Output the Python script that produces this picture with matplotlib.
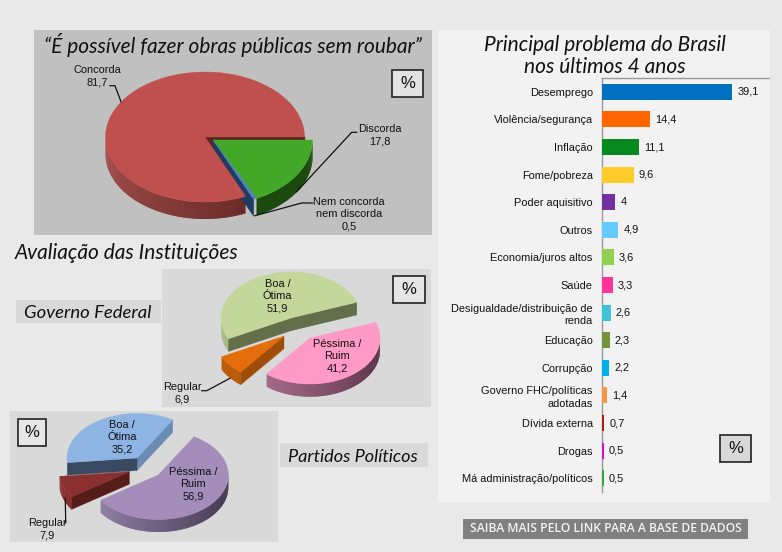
import numpy as np
import matplotlib
matplotlib.use("Agg")
import matplotlib.pyplot as plt
from matplotlib.collections import PolyCollection
from matplotlib.colors import to_rgb
from matplotlib.patches import Rectangle

W, H = 782, 552
BG = "#e9e9e9"

# ---- data ----
pie1_labels = ["Discorda", "Nem concorda\nnem discorda", "Concorda"]
pie1_values = [17.8, 0.5, 81.7]
gov_labels = ["Péssima /\nRuim", "Regular", "Boa /\nÓtima"]
gov_values = [41.2, 6.9, 51.9]
part_labels = ["Péssima /\nRuim", "Regular", "Boa /\nÓtima"]
part_values = [56.9, 7.9, 35.2]
bar_labels = ["Desemprego", "Violência/segurança", "Inflação", "Fome/pobreza",
              "Poder aquisitivo", "Outros", "Economia/juros altos", "Saúde",
              "Desigualdade/distribuição de\nrenda", "Educação", "Corrupção",
              "Governo FHC/políticas\nadotadas", "Dívida externa", "Drogas",
              "Má administração/políticos"]
bar_values = [39.1, 14.4, 11.1, 9.6, 4, 4.9, 3.6, 3.3, 2.6, 2.3, 2.2, 1.4, 0.7, 0.5, 0.5]
bar_colors = ["#0070c0", "#ff6600", "#068a1e", "#ffcc29", "#7030a0", "#66ccff", "#92d050",
              "#ff3399", "#3fc3d8", "#76923c", "#00b0f0", "#f79646", "#b01818", "#cc11cc", "#33aa44"]


def fmt(v):
    return f"{v:g}".replace(".", ",")


fig = plt.figure(figsize=(W / 100, H / 100), dpi=100, facecolor=BG)
ax = fig.add_axes([0, 0, 1, 1])
ax.set_xlim(0, W)
ax.set_ylim(H, 0)
ax.axis("off")


def box(x0, y0, x1, y1, fc, ec="none", lw=0, z=1):
    ax.add_patch(Rectangle((x0, y0), x1 - x0, y1 - y0, fc=fc, ec=ec, lw=lw, zorder=z))


def angles(values, start):
    """Clockwise slices from a start angle; returned as (low, high) in degrees."""
    edges = start - np.concatenate([[0], np.cumsum(values)]) * 3.6
    return [(edges[i + 1], edges[i]) for i in range(len(values))]


def mix(c0, c1, t):
    a, b = np.array(to_rgb(c0)), np.array(to_rgb(c1))
    return tuple(a + (b - a) * t)


class Pie3D:
    def __init__(self, values, start, rx, ry, depth, apex, style):
        self.ang = angles(values, start)
        self.rx, self.ry, self.depth, self.apex, self.style = rx, ry, depth, apex, style
        self.z = 2

    def pt(self, i, th):
        cx, cy = self.apex[i]
        t = np.radians(th)
        return cx + self.rx * np.cos(t), cy - self.ry * np.sin(t)

    def side(self, i):
        lo, hi = self.ang[i]
        c0, c1 = self.style[i]["side"]
        ths = np.linspace(lo, hi, max(int((hi - lo) / 1.5), 2) + 1)
        polys, cols = [], []
        for u, v in zip(ths[:-1], ths[1:]):
            m = np.radians((u + v) / 2)
            if np.sin(m) >= 0:
                continue
            # each strip reaches under its neighbour so that no seams show
            w = min(v + 1.0, hi)
            a, b, c = self.pt(i, u), self.pt(i, v), self.pt(i, w)
            polys.append([a, b, c, (c[0], c[1] + self.depth), (b[0], b[1] + self.depth),
                          (a[0], a[1] + self.depth)])
            t = ((np.degrees(m) % 360) - 180) / 180
            cols.append(mix(c0, c1, t))
        if polys:
            ax.add_collection(PolyCollection(polys[::-1], facecolors=cols[::-1],
                                             linewidths=0, zorder=self.z))
            self.z += 1

    def face(self, i, which):
        lo, hi = self.ang[i]
        th = lo if which == "lo" else hi
        col = self.style[i]["face_" + which]
        a = self.apex[i]
        b = self.pt(i, th)
        d = self.depth
        ax.fill([a[0], b[0], b[0], a[0]], [a[1], b[1], b[1] + d, a[1] + d],
                fc=col, ec=col, lw=0.3, zorder=self.z)
        self.z += 1

    def top(self, i):
        lo, hi = self.ang[i]
        ths = np.linspace(lo, hi, 120)
        px = [self.pt(i, t) for t in ths]
        xs = [self.apex[i][0]] + [p[0] for p in px]
        ys = [self.apex[i][1]] + [p[1] for p in px]
        c = self.style[i]["top"]
        ax.fill(xs, ys, fc=c, ec=c, lw=0.3, zorder=self.z)
        self.z += 1

    def run(self, ops):
        for i, op in ops:
            if op == "side":
                self.side(i)
            elif op == "top":
                self.top(i)
            else:
                self.face(i, op)


def leader(xs, ys):
    ax.plot(xs, ys, color="#111111", lw=0.9, zorder=30, solid_joinstyle="round")


LAB = dict(family="Liberation Sans", fontsize=7.9, color="#111111", ha="center",
           va="center", linespacing=1.3, zorder=40)
TIT = dict(family="Lato", style="italic", color="#111111", zorder=40, va="center")


def pct(x0, y0, x1, y1, fc="#e2e2e2"):
    box(x0, y0, x1, y1, fc, ec="#222222", lw=1.2, z=35)
    ax.text((x0 + x1) / 2, (y0 + y1) / 2, "%", family="Liberation Sans", fontsize=12,
            color="#111111", ha="center", va="center", zorder=40)


# ---- backgrounds ----
box(34, 30, 432, 235, "#c0c0c0")
box(162, 269, 431, 407, "#d9d9d9")
box(10, 411, 278, 542, "#d9d9d9")
box(16, 300, 161, 323, "#d9d9d9")
box(280, 443, 428, 467, "#d9d9d9")
box(438, 30, 770, 502, "#f2f2f2")
box(463, 519, 748, 539, "#808080")

# ---- pie 1 ----
p1 = Pie3D(pie1_values, 0, 99.5, 65, 17,
           [(213, 140), (213, 140), (205, 137)],
           [dict(top="#43a828", side=("#1b4a0f", "#1b4a0f"), face_lo="#1b4a0f", face_hi="#1b4a0f"),
            dict(top="#4f81c8", side=("#1f3c62", "#1f3c62"), face_lo="#1f3c62", face_hi="#1f3c62"),
            dict(top="#c0504d", side=("#a85250", "#451410"), face_lo="#5b2320", face_hi="#5b2320")])
p1.run([(2, "side"), (2, "lo"), (1, "lo"), (2, "top"), (0, "side"), (0, "top"), (1, "top")])
ax.text(97, 76, f"{pie1_labels[2]}\n{fmt(pie1_values[2])}", **LAB)
ax.text(380, 135.5, f"{pie1_labels[0]}\n{fmt(pie1_values[0])}", **LAB)
ax.text(349, 214, f"{pie1_labels[1]}\n{fmt(pie1_values[1])}", **LAB)
leader([110, 115, 121], [85.7, 85.7, 101.7])
leader([356.7, 351.7, 296.7], [132.3, 132.3, 191.7])
leader([312.7, 301.7, 255], [203, 203, 215.7])
pct(392, 70, 423, 97)

# ---- governo federal ----
p2 = Pie3D(gov_values, 20, 70, 46, 12.7,
           [(310, 338), (284, 336), (291, 318)],
           [dict(top="#ff99c6", side=("#c585a8", "#4f2a3e"), face_lo="#5d3048", face_hi="#5d3048"),
            dict(top="#e46c0a", side=("#c0600a", "#a64f08"), face_lo="#c0600a", face_hi="#a04d08"),
            dict(top="#c4d79b", side=("#b2c28c", "#636e4b"), face_lo="#636e4b", face_hi="#636e4b")])
p2.run([(2, "side"), (2, "lo"), (2, "hi"), (2, "top"),
        (1, "side"), (1, "hi"), (1, "top"),
        (0, "side"), (0, "top")])
ax.text(277.7, 296, f"{gov_labels[2]}\n{fmt(gov_values[2])}", **LAB)
ax.text(337, 356, f"{gov_labels[0]}\n{fmt(gov_values[0])}", **LAB)
ax.text(182, 393.5, f"{gov_labels[1]}\n{fmt(gov_values[1])}", **LAB)
leader([201.7, 206.7, 230], [390.7, 390.7, 378.3])
pct(393, 276, 425, 303, "#e6e6e6")

# ---- partidos ----
p3 = Pie3D(part_values, 59.3, 70, 44.5, 12.5,
           [(158.3, 475), (129.3, 471.7), (137, 458)],
           [dict(top="#a48dba", side=("#a594bb", "#362c42"), face_lo="#3c3048", face_hi="#3c3048"),
            dict(top="#8b3030", side=("#8b3030", "#7a2626"), face_lo="#8b3030", face_hi="#561c1a"),
            dict(top="#8db4e2", side=("#7d9fc8", "#3a4a60"), face_lo="#6a8cb4", face_hi="#394a60")])
p3.run([(2, "side"), (2, "lo"), (2, "hi"), (2, "top"),
        (1, "side"), (1, "hi"), (1, "top"),
        (0, "side"), (0, "top")])
ax.text(122, 437, f"{part_labels[2]}\n{fmt(part_values[2])}", **LAB)
ax.text(193, 484, f"{part_labels[0]}\n{fmt(part_values[0])}", **LAB)
ax.text(47, 529, f"{part_labels[1]}\n{fmt(part_values[1])}", **LAB)
leader([65, 65.7, 65.3], [523, 523, 498])
pct(18, 419, 46, 446, "#e6e6e6")

# ---- titles ----
ax.text(233, 45, "“É possível fazer obras públicas sem roubar”", fontsize=15, ha="center", **TIT)
ax.text(15, 253, "Avaliação das Instituições", fontsize=15, ha="left", **TIT)
ax.text(24, 313, "Governo Federal", fontsize=13.3, ha="left", **TIT)
ax.text(288, 457, "Partidos Políticos", fontsize=13.1, ha="left", **TIT)
ax.text(605, 45, "Principal problema do Brasil", fontsize=15, ha="center", **TIT)
ax.text(605, 67, "nos últimos 4 anos", fontsize=15, ha="center", **TIT)
ax.text(605.5, 529, "SAIBA MAIS PELO LINK PARA A BASE DE DADOS", family="Open Sans",
        fontsize=8.7, weight="semibold", color="#f2f2f2", ha="center", va="center", zorder=40)
pct(720, 435, 751, 462, "#d8d8d8")

# ---- bars ----
bx = fig.add_axes([602 / W, 1 - 492 / H, 167 / W, 414 / H])
bx.patch.set_alpha(0)
y = np.arange(len(bar_values))
bx.barh(y, bar_values, height=0.58, color=bar_colors, linewidth=0, zorder=3)
bx.set_xlim(0, 50.15)
bx.set_ylim(len(bar_values) - 0.5, -0.5)
bx.set_xticks([])
bx.set_yticks(y, bar_labels, family="Liberation Sans", fontsize=7.9, color="#111111",
              linespacing=1.3)
bx.tick_params(axis="y", length=0, pad=6.6)
for s in ("right", "bottom"):
    bx.spines[s].set_visible(False)
for s in ("left", "top"):
    bx.spines[s].set_color("#999999")
    bx.spines[s].set_linewidth(1)
for yi, v in zip(y, bar_values):
    bx.text(v + 1.5, yi, fmt(v), family="Liberation Sans", fontsize=7.9, color="#111111",
            va="center", ha="left")

fig.savefig("out.png", dpi=100, facecolor=BG)
